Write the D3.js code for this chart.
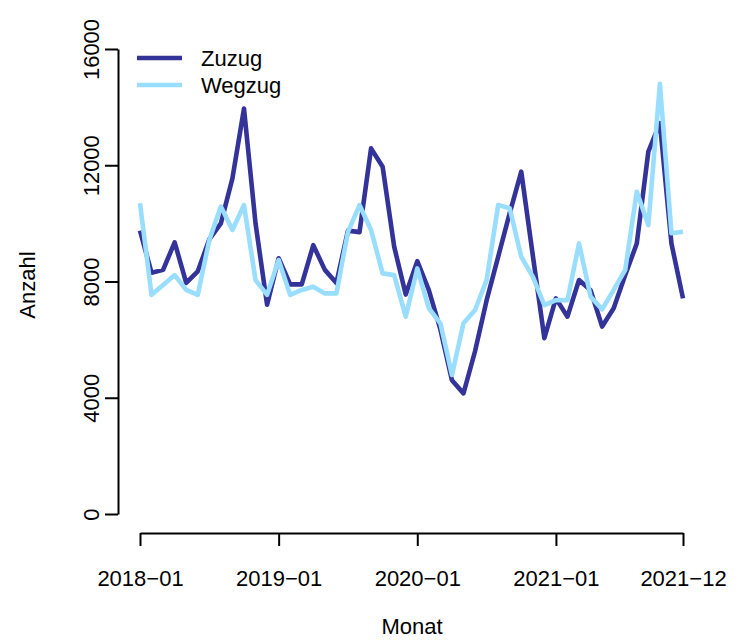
<!DOCTYPE html>
<html>
<head>
<meta charset="utf-8">
<script src="https://cdn.jsdelivr.net/npm/d3@7"></script>
<style>
  html, body { margin: 0; padding: 0; background: #fff; }
  svg { display: block; }
  text { font-family: "Liberation Sans", Arial, sans-serif; fill: #000; }
</style>
</head>
<body>
<svg id="chart" width="740" height="641"></svg>
<script>
// Monthly moves, Jan 2018 – Dec 2021
const years = [2018, 2019, 2020, 2021];
const months = years.flatMap(y => d3.range(1, 13).map(m => `${y}-${String(m).padStart(2, "0")}`));

const zuzug = [
  9750, 8300, 8400, 9350, 7950, 8350, 9450, 10000, 11550, 13950, 10000, 7200,
  8800, 7900, 7900, 9250, 8400, 7950, 9750, 9700, 12580, 11950, 9200, 7550,
  8700, 7700, 6350, 4600, 4150, 5600, 7350, 8850, 10350, 11780, 8900, 6050,
  7420, 6790, 8050, 7700, 6450, 7080, 8220, 9310, 12470, 13450, 9310, 7420
];
const wegzug = [
  10690, 7540, 7880, 8220, 7710, 7540, 9430, 10580, 9770, 10630, 8050, 7540,
  8740, 7540, 7710, 7820, 7590, 7590, 9710, 10630, 9770, 8280, 8220, 6790,
  8450, 7080, 6560, 4780, 6560, 7020, 8050, 10630, 10520, 8850, 8170, 7190,
  7360, 7360, 9310, 7480, 7040, 7710, 8400, 11090, 9940, 14800, 9660, 9710
];

const seriesNames = ["Zuzug", "Wegzug"];
const seriesColors = ["#333399", "#99ddff"];
const xTickLabels = ["2018-01", "2019-01", "2020-01", "2021-01", "2021-12"];
const yTicks = [0, 4000, 8000, 12000, 16000];

const svg = d3.select("#chart");
const fontSize = 22;

const x = d3.scalePoint().domain(months).range([140, 683]);
const y = d3.scaleLinear().domain([0, 16000]).range([514, 49]);

// y axis (only spans the tick range)
const yAxis = svg.append("g").attr("transform", "translate(118,0)")
  .call(d3.axisLeft(y).tickValues(yTicks).tickSize(13).tickSizeOuter(0).tickFormat(d3.format("d")));
yAxis.select(".domain").attr("stroke", "#000").attr("stroke-width", 2);
yAxis.selectAll(".tick line").attr("stroke", "#000").attr("stroke-width", 2);
yAxis.selectAll(".tick text")
  .attr("font-size", fontSize)
  .attr("font-family", "Liberation Sans, Arial, sans-serif")
  .attr("x", null).attr("dy", null)
  .attr("text-anchor", "middle")
  .attr("transform", "translate(-19,0) rotate(-90)");

// x axis
const xAxis = svg.append("g").attr("transform", "translate(0,533)")
  .call(d3.axisBottom(x).tickValues(xTickLabels).tickSize(13).tickSizeOuter(0)
    .tickFormat(d => d.replace("-", "\u2212")));
xAxis.select(".domain").attr("stroke", "#000").attr("stroke-width", 2);
xAxis.selectAll(".tick line").attr("stroke", "#000").attr("stroke-width", 2);
xAxis.selectAll(".tick text")
  .attr("font-size", fontSize)
  .attr("font-family", "Liberation Sans, Arial, sans-serif")
  .attr("y", 53).attr("dy", null);

// axis titles
svg.append("text").attr("x", 412).attr("y", 634)
  .attr("text-anchor", "middle").attr("font-size", fontSize).text("Monat");
svg.append("text").attr("transform", "translate(35,285) rotate(-90)")
  .attr("text-anchor", "middle").attr("font-size", fontSize).text("Anzahl");

// lines
const line = d3.line().x((d, i) => x(months[i])).y(d => y(d));
[zuzug, wegzug].forEach((vals, k) => {
  svg.append("path").datum(vals)
    .attr("d", line)
    .attr("fill", "none")
    .attr("stroke", seriesColors[k])
    .attr("stroke-width", 4.6)
    .attr("stroke-linejoin", "round")
    .attr("stroke-linecap", "butt");
});

// legend
const legend = svg.append("g");
seriesNames.forEach((name, k) => {
  const ly = 58 + k * 27;
  legend.append("line").attr("x1", 137).attr("x2", 182).attr("y1", ly).attr("y2", ly)
    .attr("stroke", seriesColors[k]).attr("stroke-width", 4.6);
  legend.append("text").attr("x", 201).attr("y", ly).attr("dy", "0.36em")
    .attr("font-size", fontSize).text(name);
});
</script>
</body>
</html>
